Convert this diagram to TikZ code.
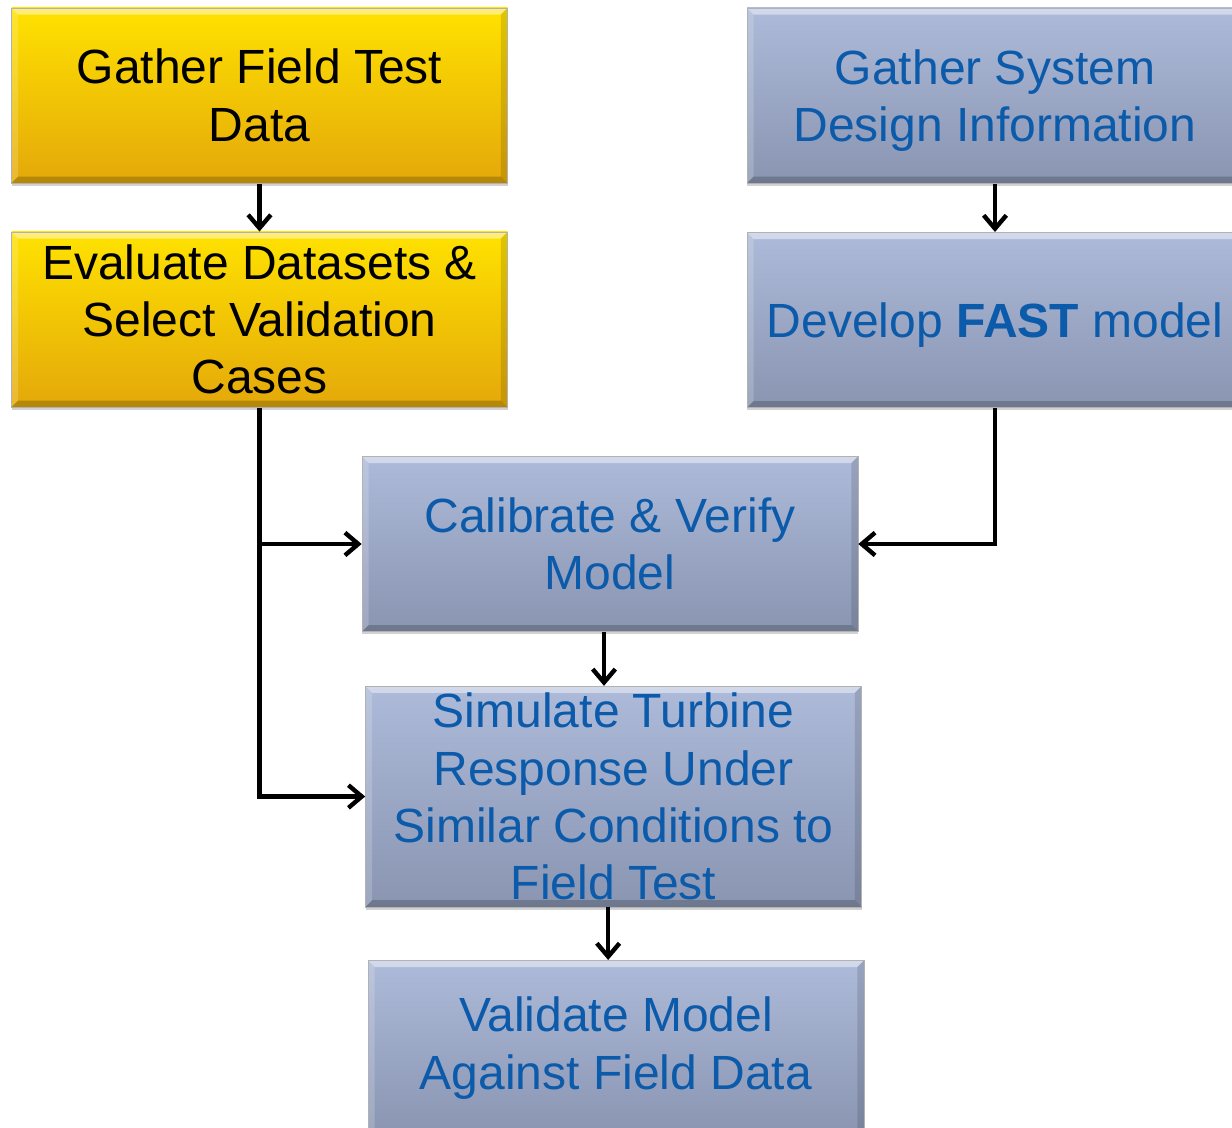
\documentclass[tikz,border=0pt]{standalone}
\usepackage{fontspec}
\setmainfont{Liberation Sans}
\usetikzlibrary{arrows.meta,shadows}

\definecolor{goldtop}{RGB}{255,226,0}
\definecolor{goldbot}{RGB}{228,168,10}
\definecolor{slatetop}{RGB}{173,186,217}
\definecolor{slatebot}{RGB}{137,149,177}
\definecolor{textblue}{RGB}{12,90,170}

\tikzset{
  bevel/.style={
    path picture={
      \fill[white,opacity=.45]
        (path picture bounding box.north west) -- (path picture bounding box.north east)
        -- ([xshift=-5pt,yshift=-5pt]path picture bounding box.north east)
        -- ([xshift=5pt,yshift=-5pt]path picture bounding box.north west) -- cycle;
      \fill[white,opacity=.18]
        (path picture bounding box.north west) -- ([xshift=5pt,yshift=-5pt]path picture bounding box.north west)
        -- ([xshift=5pt,yshift=5pt]path picture bounding box.south west)
        -- (path picture bounding box.south west) -- cycle;
      \fill[black,opacity=.12]
        (path picture bounding box.north east) -- ([xshift=-5pt,yshift=-5pt]path picture bounding box.north east)
        -- ([xshift=-5pt,yshift=5pt]path picture bounding box.south east)
        -- (path picture bounding box.south east) -- cycle;
      \fill[black,opacity=.2]
        (path picture bounding box.south west) -- (path picture bounding box.south east)
        -- ([xshift=-5pt,yshift=5pt]path picture bounding box.south east)
        -- ([xshift=5pt,yshift=5pt]path picture bounding box.south west) -- cycle;
    }},
  stepbox/.style={
    rectangle, inner sep=0pt, minimum width=372pt, minimum height=131.5pt,
    align=center, font=\fontsize{36}{43}\selectfont,
    draw=black!30, line width=.5pt,
    drop shadow={shadow xshift=0pt, shadow yshift=-2pt, opacity=.3, fill=black!60},
    bevel},
  goldbox/.style={stepbox, top color=goldtop, bottom color=goldbot, text=black},
  slatebox/.style={stepbox, top color=slatetop, bottom color=slatebot, text=textblue},
  arr/.style={line width=3.3pt, -{Straight Barb[length=10pt,width=17pt,line width=3.3pt]}}
}

\begin{document}
\begin{tikzpicture}[x=0.75pt, y=-0.75pt]
  \path[use as bounding box] (0,0) rectangle (1232,1128);
  \clip (0,0) rectangle (1232,1128);

  % left column: field data
  \node[goldbox] (gfield) at (259.5,95.5) {Gather Field Test\\Data};
  \node[goldbox] (evalds) at (259.5,319.5) {Evaluate Datasets \&\\Select Validation\\Cases};

  % right column: system design
  \node[slatebox, text depth=0pt] (gsys) at (995,95.5) {Gather System\\Design Information};
  \node[slatebox, text depth=0pt] (devfast) at (995,320) {Develop \textbf{FAST} model};

  % middle column: modelling steps
  \node[slatebox] (calib) at (610,544) {Calibrate \& Verify\\Model};
  \node[slatebox, minimum height=165.5pt] (simul) at (613.5,796.5) {Simulate Turbine\\Response Under\\Similar Conditions to\\Field Test};
  \node[slatebox] (valid) at (616,1048) {Validate Model\\Against Field Data};

  % connectors
  \draw[arr] (gfield) -- (evalds);
  \draw[arr] (gsys) -- (devfast);
  \draw[arr] (evalds.south) |- (simul.west);
  \draw[arr] (evalds.south |- calib.west) -- (calib.west);
  \draw[arr] (devfast.south) |- (calib.east);
  \draw[arr] ([xshift=-4.5pt]calib.south) -- ([xshift=-4.5pt]calib.south |- simul.north);
  \draw[arr] ([xshift=-4pt]simul.south) -- ([xshift=-4pt]simul.south |- valid.north);
\end{tikzpicture}
\end{document}
